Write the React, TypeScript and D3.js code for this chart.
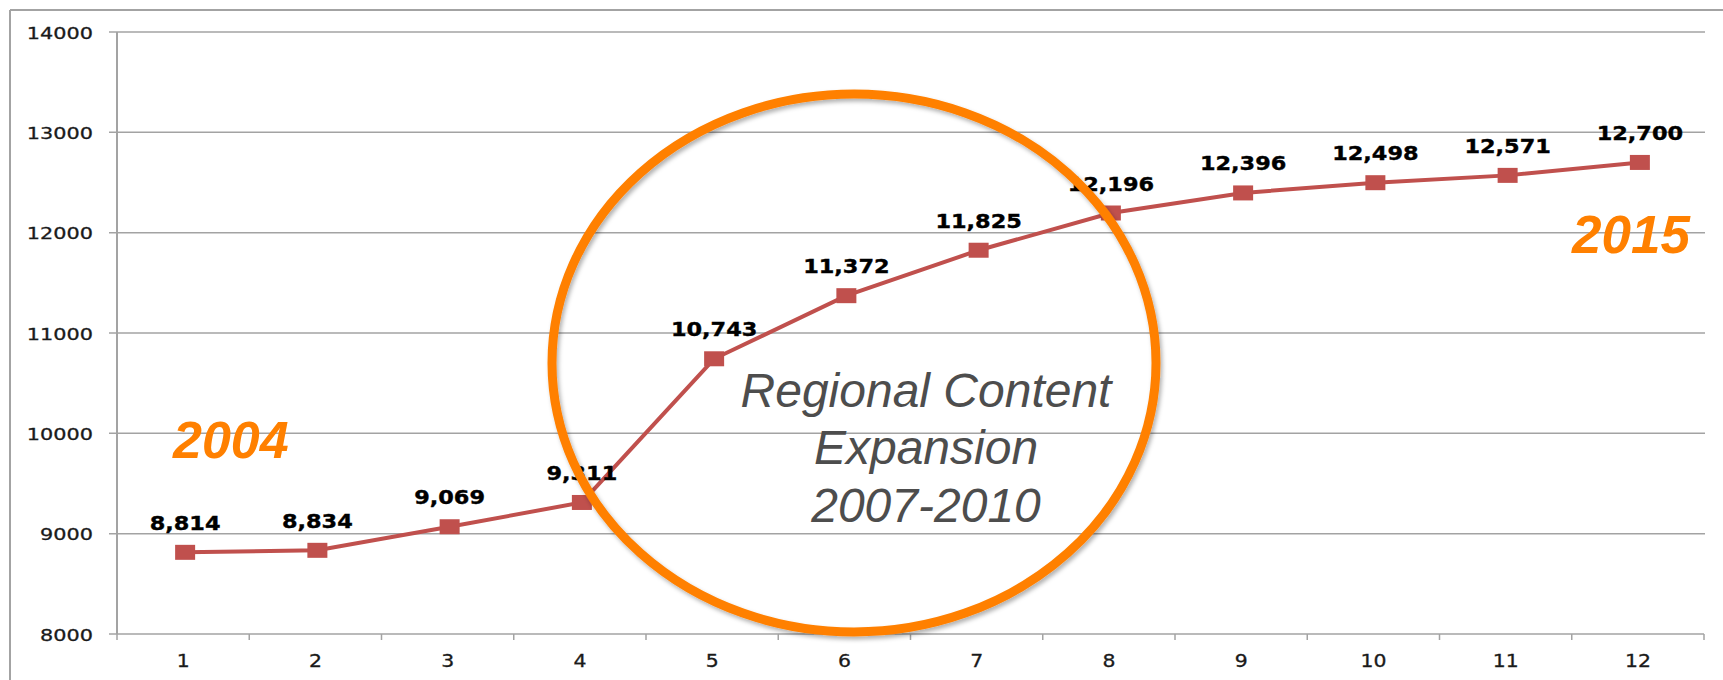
import React from "react";
import * as d3 from "d3";

const categories = ["1", "2", "3", "4", "5", "6", "7", "8", "9", "10", "11", "12"];
const values = [8814, 8834, 9069, 9311, 10743, 11372, 11825, 12196, 12396, 12498, 12571, 12700];
const yTicks = [8000, 9000, 10000, 11000, 12000, 13000, 14000];
const annotationLines = ["Regional Content", "Expansion", "2007-2010"];
const startYear = "2004";
const endYear = "2015";

const W = 1723;
const H = 680;
const left = 117;
const right = 1704;
const top = 32;
const bottom = 634;

export default function App() {
  const x = d3.scaleBand<string>().domain(categories).range([left, right]).paddingInner(0).paddingOuter(0);
  const y = d3.scaleLinear().domain([8000, 14000]).range([bottom, top]);
  const cx = (c: string) => (x(c) as number) + x.bandwidth() / 2 + 2;
  const line = d3
    .line<number>()
    .x((_, i) => cx(categories[i]))
    .y((v) => y(v));
  const fmt = d3.format(",");
  const boundaries = categories.map((c) => x(c) as number).concat([right]);
  const orange = "#ff8000";
  const red = "#c0504d";
  const grid = "#a3a3a3";

  return (
    <svg
      width={W}
      height={H}
      style={{ position: "absolute", left: 0, top: 0, background: "#fff" }}
      fontFamily="'DejaVu Sans', Verdana, sans-serif"
    >
      <defs>
        <filter id="sh" x="-10%" y="-10%" width="120%" height="120%">
          <feDropShadow dx="2" dy="3" stdDeviation="2" floodColor="#000" floodOpacity="0.3" />
        </filter>
      </defs>
      <rect x={0} y={0} width={W} height={H} fill="#fff" />
      {/* outer frame */}
      <line x1={10} y1={10} x2={W} y2={10} stroke={grid} strokeWidth={2} />
      <line x1={10} y1={10} x2={10} y2={H} stroke={grid} strokeWidth={2} />

      {/* gridlines & y ticks */}
      {yTicks.map((t) => (
        <g key={t}>
          <line x1={109} x2={t === 8000 ? right : 1705} y1={y(t)} y2={y(t)} stroke={grid} strokeWidth={1.5} />
          <text
            transform={`translate(93,${y(t) + 6.5}) scale(1.3,1)`}
            textAnchor="end"
            fontSize={16}
            fill="#1a1a1a"
            stroke="#1a1a1a"
            strokeWidth={0.3}
          >
            {t}
          </text>
        </g>
      ))}
      {/* y axis */}
      <line x1={left} x2={left} y1={top} y2={bottom} stroke={grid} strokeWidth={2} />
      {/* x ticks */}
      {boundaries.map((b, i) => (
        <line key={i} x1={b} x2={b} y1={bottom} y2={bottom + 6} stroke={grid} strokeWidth={1.5} />
      ))}
      {categories.map((c) => (
        <text
          key={c}
          transform={`translate(${(x(c) as number) + x.bandwidth() / 2},667) scale(1.2,1)`}
          textAnchor="middle"
          fontSize={17}
          fill="#1a1a1a"
          stroke="#1a1a1a"
          strokeWidth={0.3}
        >
          {c}
        </text>
      ))}

      {/* series */}
      <path d={line(values) as string} fill="none" stroke={red} strokeWidth={4} />
      {values.map((v, i) => (
        <rect key={i} x={cx(categories[i]) - 10} y={y(v) - 7.5} width={20} height={15} fill={red} />
      ))}
      {values.map((v, i) => (
        <text
          key={i}
          transform={`translate(${cx(categories[i])},${y(v) - 22.5}) scale(1.12,1)`}
          textAnchor="middle"
          fontSize={20}
          fontWeight="bold"
          fill="#000"
          stroke="#000"
          strokeWidth={0.4}
        >
          {fmt(v)}
        </text>
      ))}

      {/* year labels */}
      <text
        x={173}
        y={458}
        fontFamily="'Liberation Sans', Arial, sans-serif"
        fontStyle="italic"
        fontWeight="bold"
        fontSize={52}
        fill={orange}
      >
        {startYear}
      </text>
      <text
        x={1572}
        y={253}
        fontFamily="'Liberation Sans', Arial, sans-serif"
        fontStyle="italic"
        fontWeight="bold"
        fontSize={53}
        fill={orange}
      >
        {endYear}
      </text>

      {/* circle annotation */}
      <ellipse cx={854} cy={363} rx={302} ry={269} fill="none" stroke={orange} strokeWidth={9} filter="url(#sh)" />
      {annotationLines.map((s, i) => (
        <text
          key={i}
          x={926}
          y={406.5 + i * 57.5}
          textAnchor="middle"
          fontFamily="'Liberation Sans', Arial, sans-serif"
          fontStyle="italic"
          fontSize={48}
          fill="#4d4d4d"
        >
          {s}
        </text>
      ))}
    </svg>
  );
}
